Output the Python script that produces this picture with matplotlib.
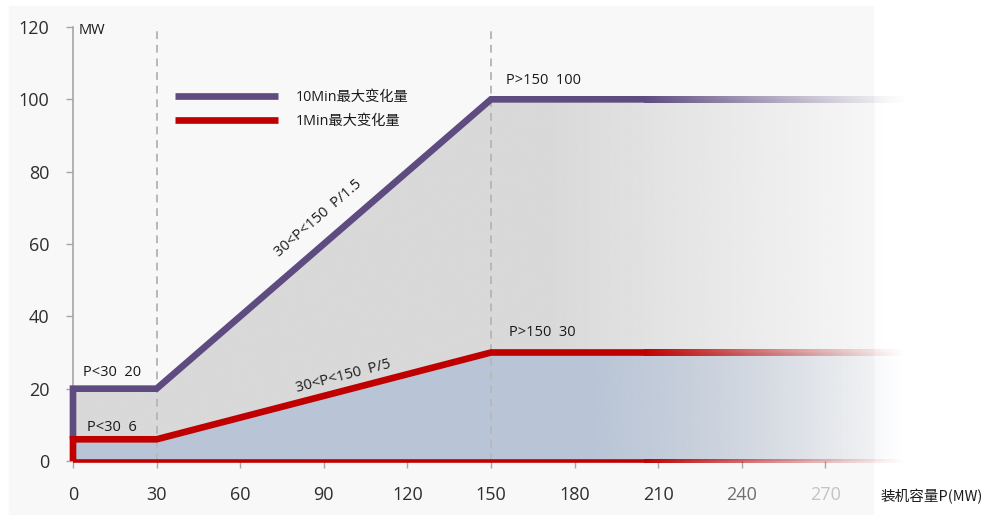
import numpy as np
import matplotlib
matplotlib.use('Agg')
import matplotlib.pyplot as plt
from matplotlib.lines import Line2D
from matplotlib.patches import Polygon, Rectangle
from matplotlib.colors import to_rgb

plt.rcParams['font.family'] = ['Open Sans', 'Noto Sans CJK SC', 'DejaVu Sans']

# data
breaks = [0, 30, 150, 300]
max_10min = [20, 20, 100, 100]
max_1min = [6, 6, 30, 30]
x_ticks = [0, 30, 60, 90, 120, 150, 180, 210, 240, 270]
y_ticks = [0, 20, 40, 60, 80, 100, 120]
legend_labels = ['10Min最大变化量', '1Min最大变化量']
notes = [
    ('P<30  20', 3.5, 24.5),
    ('P<30  6', 5, 9.2),
    ('P>150  100', 155.5, 105.3),
    ('P>150  30', 156.5, 35.4),
]
purple = '#5e4b80'
red = '#c00000'
grey_fill = '#d9d9d9'
blue_fill = '#b9c5d7'

fig = plt.figure(figsize=(9.84, 5.15), dpi=100, facecolor='white')
fig.patches.append(Rectangle((9 / 984, 0), (873 - 9) / 984, 1 - 6 / 515,
                             transform=fig.transFigure, color='#f8f8f8', zorder=-10))
ax = fig.add_axes([73 / 984, 1 - 461 / 515, 836 / 984, 434 / 515])
ax.set_facecolor('none')
ax.set_xlim(0, 300)
ax.set_ylim(0, 120)


def grad_img(color, x0, x1, f0, f1, n=400, power=1.0):
    xx = np.linspace(x0, x1, n)
    alpha = np.clip((f1 - xx) / (f1 - f0), 0, 1) ** power
    img = np.zeros((1, n, 4))
    img[0, :, :3] = to_rgb(color)
    img[0, :, 3] = alpha
    return img


def grad_fill(xs, ys, color, f0, f1, z):
    verts = [(0, 0)] + list(zip(xs, ys)) + [(xs[-1], 0)]
    poly = Polygon(verts, closed=True, facecolor='none', edgecolor='none')
    ax.add_patch(poly)
    im = ax.imshow(grad_img(color, 0, 300, f0, f1), extent=[0, 300, 0, 120],
                   aspect='auto', origin='lower', zorder=z, interpolation='bilinear')
    im.set_clip_path(poly)


def grad_line(xs, ys, color, f0, f1, lw, z, start=None):
    # solid part up to f0
    px = [p for p in xs if p < f0] + [f0]
    py = list(np.interp(px, xs, ys))
    if start is not None:
        px = [xs[0]] + px
        py = [start] + py
    ax.plot(px, py, color=color, lw=lw, zorder=z, clip_on=False, snap=False,
            solid_joinstyle='miter', solid_capstyle='butt')
    # fading horizontal tail drawn as a thin gradient image
    yv = np.interp(f0, xs, ys)
    h_px = lw * fig.dpi / 72
    d0 = ax.transData.inverted().transform((0, 0))
    d1 = ax.transData.inverted().transform((0, h_px))
    h = d1[1] - d0[1]
    ax.imshow(grad_img(color, f0, f1, f0, f1, power=1.2),
              extent=[f0, f1, yv - h / 2, yv + h / 2], aspect='auto',
              origin='lower', zorder=z, interpolation='bilinear', clip_on=False)


grad_fill(breaks, max_10min, grey_fill, 170, 292, 1)
grad_fill(breaks, max_1min, blue_fill, 185, 298, 2)

ax.vlines([breaks[1], breaks[2]], 0, 119.5, colors='#b8b8b8', lw=1.4,
          linestyles=(0, (4, 3)), zorder=3)

grad_line(breaks, max_10min, purple, 205, 300, 4.8, 5, start=max_1min[0])
grad_line(breaks, max_1min, red, 205, 300, 4.8, 5, start=0)
base = [0] * len(breaks)
grad_line(breaks, base, red, 205, 300, 2.6, 4)

# text along lines
for (ys, label, off) in [(max_10min, '30<P<150  P/1.5', 8.5), (max_1min, '30<P<150  P/5', 4)]:
    p0 = ax.transData.transform((breaks[1], ys[1]))
    p1 = ax.transData.transform((breaks[2], ys[2]))
    ang = np.degrees(np.arctan2(p1[1] - p0[1], p1[0] - p0[0]))
    xm = 88 if off > 5 else 97
    ym = np.interp(xm, breaks, ys) + off
    ax.text(xm, ym, label, rotation=ang, rotation_mode='anchor', ha='center',
            va='center', fontsize=10.5, color='#1a1a1a', zorder=6)

for label, x, y in notes:
    ax.text(x, y, label, ha='left', va='center', fontsize=10.5, color='#1a1a1a', zorder=6)

ax.text(2, 119, 'MW', ha='left', va='center', fontsize=10.5, color='#1a1a1a')

handles = [Line2D([], [], color=purple, lw=4.8, solid_capstyle='butt'),
           Line2D([], [], color=red, lw=4.8, solid_capstyle='butt')]
ax.legend(handles, legend_labels, loc='upper left', bbox_to_anchor=(0.1136, 0.872),
          frameon=False, fontsize=10.3, handlelength=7.2, handletextpad=1.2,
          labelspacing=0.62, borderpad=0, labelcolor='#1a1a1a')

for s in ['top', 'right', 'bottom']:
    ax.spines[s].set_visible(False)
ax.spines['left'].set_color('#a6a6a6')
ax.spines['left'].set_linewidth(1.2)

ax.set_xlim(0, 300)
ax.set_ylim(0, 120)
ax.set_xticks(x_ticks)
ax.set_yticks(y_ticks)
ax.tick_params(axis='x', length=5, width=1, color='#a6a6a6', pad=13,
               labelsize=13, labelcolor='#2e2e2e')
ax.tick_params(axis='y', length=5, width=1, color='#a6a6a6', pad=12,
               labelsize=13, labelcolor='#2e2e2e')
fade_cols = {240: ('#6e6e6e', '#c0c0c0'), 270: ('#c4c4c4', '#dddddd')}
for t, lab in zip(ax.xaxis.get_major_ticks(), x_ticks):
    if lab in fade_cols:
        t.label1.set_color(fade_cols[lab][0])
        t.tick1line.set_color(fade_cols[lab][1])

fig.text(880 / 984, 1 - 497 / 515, '装机容量P(MW)', ha='left', va='center',
         fontsize=10.5, color='#1a1a1a', family=['Noto Sans CJK SC', 'DejaVu Sans'])

fig.savefig('out.png', dpi=100, facecolor=fig.get_facecolor())
